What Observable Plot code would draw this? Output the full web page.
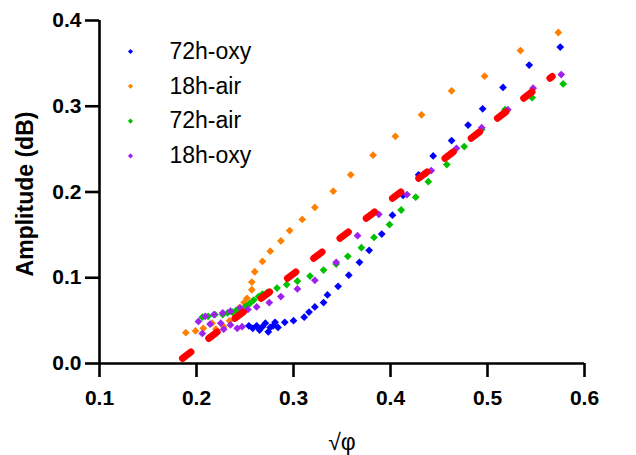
<!DOCTYPE html>
<html>
<head>
<meta charset="utf-8">
<script src="https://cdn.jsdelivr.net/npm/d3@7"></script>
<script src="https://cdn.jsdelivr.net/npm/@observablehq/plot@0.6"></script>
<style>
  html, body { margin: 0; padding: 0; background: #fff; }
  #chart svg { display: block; }
</style>
</head>
<body>
<div id="chart"></div>
<script>
// ---- data ----
const seriesNames = ["72h-oxy", "18h-air", "72h-air", "18h-oxy"];
const seriesColors = ["#0000FF", "#FF8000", "#00C000", "#A020F0"];

const oxy72X = [0.254,0.258,0.262,0.265,0.268,0.271,0.274,0.276,0.279,0.281,0.284,0.291,0.300,0.311,0.316,0.322,0.331,0.335,0.346,0.357,0.368,0.378,0.391,0.402,0.413,0.429,0.444,0.463,0.480,0.495,0.516,0.543,0.575];
const oxy72Y = [0.044,0.041,0.044,0.039,0.043,0.047,0.037,0.042,0.044,0.048,0.042,0.048,0.050,0.054,0.060,0.066,0.071,0.080,0.090,0.103,0.118,0.132,0.151,0.173,0.196,0.220,0.242,0.260,0.278,0.297,0.322,0.348,0.369];

const air18X = [0.189,0.199,0.207,0.216,0.220,0.228,0.234,0.240,0.244,0.249,0.252,0.257,0.257,0.260,0.268,0.276,0.287,0.296,0.309,0.322,0.341,0.359,0.382,0.405,0.432,0.463,0.497,0.534,0.573];
const air18Y = [0.036,0.038,0.041,0.047,0.040,0.043,0.050,0.057,0.065,0.071,0.076,0.086,0.095,0.107,0.119,0.131,0.143,0.155,0.168,0.182,0.201,0.220,0.243,0.265,0.290,0.318,0.335,0.365,0.386];

const air72X = [0.206,0.212,0.219,0.227,0.232,0.237,0.241,0.245,0.251,0.255,0.259,0.264,0.268,0.273,0.283,0.293,0.304,0.317,0.331,0.344,0.356,0.370,0.383,0.399,0.411,0.426,0.439,0.458,0.476,0.494,0.518,0.546,0.578];
const air72Y = [0.054,0.055,0.057,0.057,0.059,0.060,0.062,0.064,0.067,0.070,0.074,0.078,0.081,0.083,0.088,0.092,0.096,0.102,0.109,0.116,0.125,0.135,0.147,0.162,0.179,0.194,0.212,0.232,0.253,0.273,0.296,0.310,0.326];

const oxy18X = [0.202,0.206,0.209,0.214,0.218,0.225,0.227,0.228,0.235,0.235,0.242,0.245,0.247,0.253,0.262,0.275,0.287,0.304,0.322,0.344,0.366,0.388,0.417,0.442,0.468,0.494,0.521,0.547,0.576];
const oxy18Y = [0.049,0.035,0.055,0.046,0.057,0.047,0.059,0.040,0.061,0.045,0.041,0.065,0.043,0.063,0.066,0.071,0.078,0.087,0.097,0.118,0.149,0.174,0.197,0.225,0.251,0.275,0.296,0.321,0.337];

// linear fit (red dashed line) end points
const fitX = [0.1856, 0.5667];
const fitY = [0.006, 0.3347];

const xTicks = [0.1, 0.2, 0.3, 0.4, 0.5, 0.6];
const yTicks = [0.0, 0.1, 0.2, 0.3, 0.4];

// ---- build tables ----
const seriesX = [oxy72X, air18X, air72X, oxy18X];
const seriesY = [oxy72Y, air18Y, air72Y, oxy18Y];
const points = [];
seriesNames.forEach((name, i) => {
  seriesX[i].forEach((x, j) => points.push({series: name, x, y: seriesY[i][j]}));
});
const fit = fitX.map((x, i) => ({x, y: fitY[i]}));
const legendRows = seriesNames.map((name, i) => ({name, color: seriesColors[i], i}));

const font = "'Liberation Sans', Arial, Helvetica, sans-serif";

const marks = [
  // series points, drawn in legend order (last on top)
  ...seriesNames.map((name, i) =>
    Plot.dot(points.filter(d => d.series === name), {
      x: "x", y: "y", symbol: "diamond2", r: 3.5,
      fill: seriesColors[i], stroke: "none"
    })
  ),
  // fitted line
  Plot.line(fit, {x: "x", y: "y", stroke: "#FF0000", strokeWidth: 7,
    strokeDasharray: "10.5,22.5", strokeLinecap: "round"}),
  // axes
  Plot.ruleY([0], {stroke: "#000", strokeWidth: 2.6}),
  Plot.ruleX([0.1], {stroke: "#000", strokeWidth: 2.6}),
  Plot.axisX({ticks: xTicks, tickFormat: d3.format(".1f"), tickSize: 14, tickPadding: 13,
    fontSize: 21, fontWeight: "bold", strokeWidth: 2.6, label: null}),
  Plot.axisY({ticks: yTicks, tickFormat: d3.format(".1f"), tickSize: 14, tickPadding: 4,
    fontSize: 21, fontWeight: "bold", strokeWidth: 2.6, label: null}),
  // axis titles
  Plot.text(["Amplitude (dB)"], {frameAnchor: "left", rotate: -90, dx: -74, dy: 2,
    fontSize: 23, fontWeight: "bold", fill: "#000", textAnchor: "middle", lineAnchor: "middle"}),
  Plot.text(["√φ"], {frameAnchor: "bottom", dy: 79, fontSize: 23, fill: "#000",
    textAnchor: "middle", lineAnchor: "middle"}),
  // legend
  ...legendRows.map(r => Plot.dot([r], {frameAnchor: "top-left", dx: 31, dy: 31 + r.i * 34.8,
    symbol: "diamond2", r: 2.3, fill: r.color, stroke: "none"})),
  ...legendRows.map(r => Plot.text([r], {frameAnchor: "top-left", dx: 70, dy: 31 + r.i * 34.8,
    text: "name", textAnchor: "start", lineAnchor: "middle", fontSize: 23, fill: "#000"}))
];

const chart = Plot.plot({
  width: 636,
  height: 455,
  marginLeft: 99,
  marginRight: 52,
  marginTop: 20,
  marginBottom: 92,
  style: {fontFamily: font, background: "#fff", color: "#000"},
  x: {domain: [0.1, 0.6], axis: null},
  y: {domain: [0, 0.4], axis: null},
  marks
});
document.getElementById("chart").appendChild(chart);
</script>
</body>
</html>
